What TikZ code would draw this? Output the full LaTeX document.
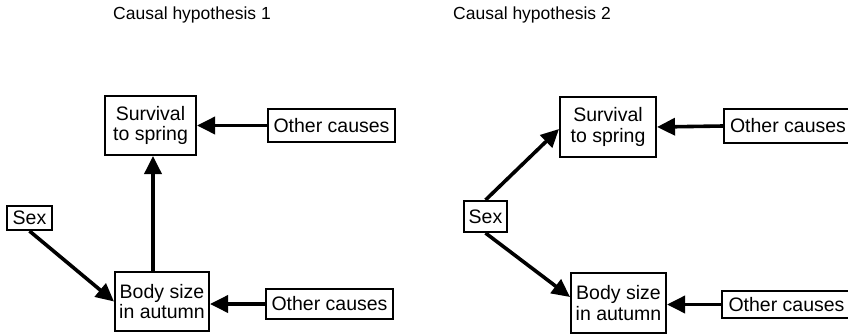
\documentclass[tikz,border=0pt]{standalone}
\usepackage{fontspec}
\setmainfont{Liberation Sans}
\usetikzlibrary{arrows.meta,calc}
\begin{document}
\begin{tikzpicture}[x=1pt,y=-1pt,
  box/.style={draw, line width=2pt, inner sep=0pt, align=center,
    font=\fontsize{19.5}{20.5}\selectfont},
  arr/.style={line width=3.6pt, -{Triangle[length=18pt,width=17pt]}},
  title/.style={font=\fontsize{17.5}{20}\selectfont, inner sep=0pt}]
\useasboundingbox (0,0) rectangle (848,333);
% titles
\node[title] (t1) at (192,15) {Causal hypothesis 1};
\node[title] (t2) at (532,15) {Causal hypothesis 2};
% hypothesis 1
\node[box, minimum width=91pt, minimum height=59pt] (s1) at (150.5,125.5) {Survival\\to spring};
\node[box, minimum width=127pt, minimum height=33pt] (o1) at (331.5,125.5) {Other causes};
\node[box, minimum width=45pt, minimum height=24pt] (x1) at (29.5,218) {Sex};
\node[box, minimum width=94pt, minimum height=59pt] (b1) at (162,301.5) {Body size\\in autumn};
\node[box, minimum width=127pt, minimum height=30pt] (p1) at (329.5,304) {Other causes};
\draw[arr] (o1.west) -- (s1.east);
\draw[arr] (b1.north -| 153,0) -- (s1.south -| 153,0);
\draw[arr] (x1.south) -- (b1.west);
\draw[arr] (p1.west) -- (p1.west -| b1.east);
% hypothesis 2
\node[box, minimum width=96pt, minimum height=60pt] (s2) at (608,127) {Survival\\to spring};
\node[box, minimum width=128pt, minimum height=34pt] (o2) at (788,126) {Other causes};
\node[box, minimum width=43pt, minimum height=31pt] (x2) at (485.5,216.5) {Sex};
\node[box, minimum width=95pt, minimum height=60pt] (b2) at (618.5,303) {Body size\\in autumn};
\node[box, minimum width=129pt, minimum height=27pt] (p2) at (786.5,304.5) {Other causes};
\draw[arr] (o2.west) -- (s2.east);
\draw[arr] (x2.north) -- ([yshift=-2pt]s2.west);
\draw[arr] (x2.south) -- ([yshift=6pt]b2.west);
\draw[arr] (p2.west) -- (p2.west -| b2.east);
\end{tikzpicture}
\end{document}
